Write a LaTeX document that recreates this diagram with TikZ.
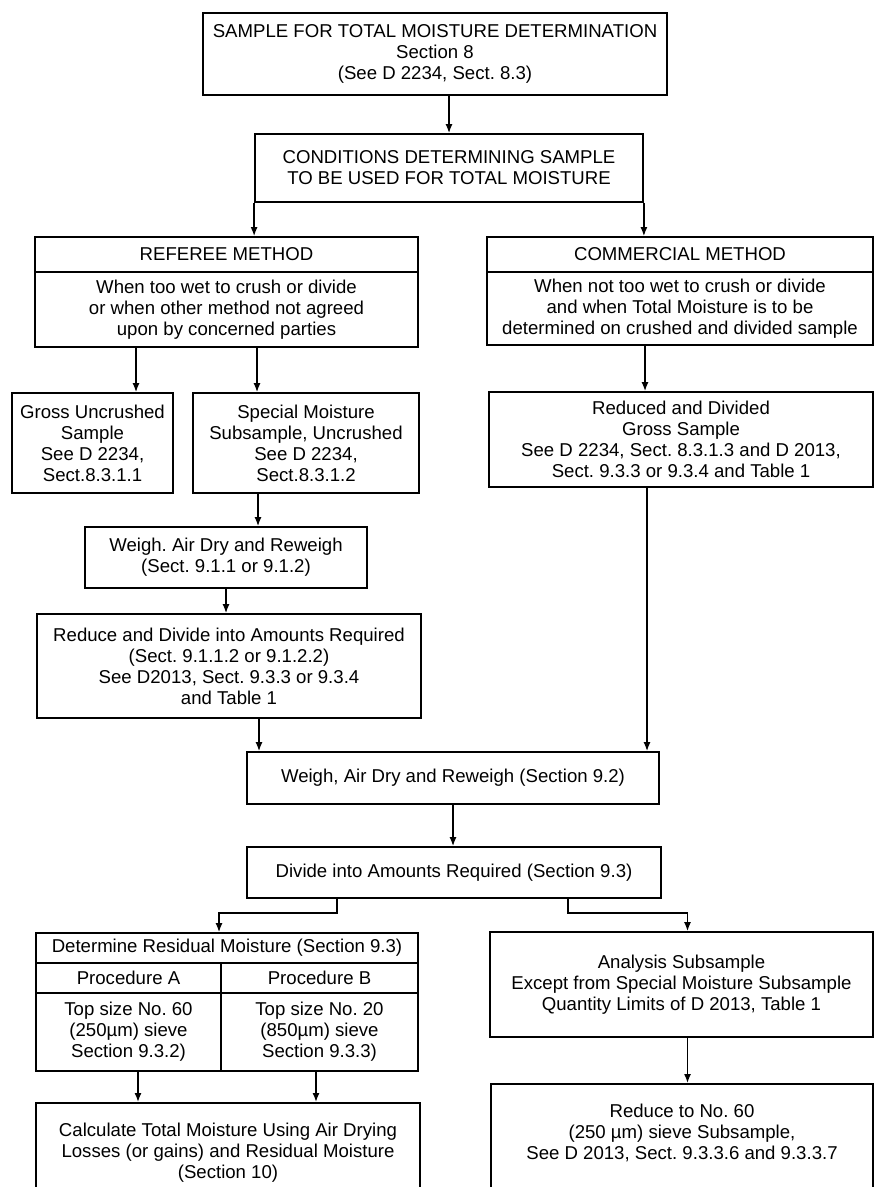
\documentclass[tikz,border=0pt]{standalone}
\usepackage{fontspec}
\setmainfont{Liberation Sans}
\usetikzlibrary{positioning,calc,arrows.meta}
\frenchspacing

\begin{document}
\begin{tikzpicture}[x=0.5pt,y=-0.5pt,
                     box node/.style={rectangle,draw,line width=0.9pt,inner sep=1pt,align=center,
                                      font=\fontsize{9.3}{10.5}\selectfont},
                     flow/.style={line width=0.7pt,-{Latex[length=4.5pt,width=3.5pt]}}
                    ]
   \useasboundingbox (0,0) rectangle (875,1187);
   \clip (0,0) rectangle (875,1187);
   % top of the chart
   \node[box node,minimum width=232pt,minimum height=41pt] (sample) at (435,54)
     {SAMPLE FOR TOTAL MOISTURE DETERMINATION\\Section 8\\(See D 2234, Sect. 8.3)};
   \node[box node,minimum width=194pt,minimum height=34pt] (cond) at (449,168)
     {CONDITIONS DETERMINING SAMPLE\\TO BE USED FOR TOTAL MOISTURE};
   % the two methods
   \node[box node,minimum width=191.5pt,minimum height=17.5pt] (refhead) at (226.5,254.5) {REFEREE METHOD};
   \node[box node,minimum width=191.5pt,minimum height=37.5pt] (refbody) at (226.5,309.5)
     {When too wet to crush or divide\\or when other method not agreed\\upon by concerned parties};
   \node[box node,minimum width=193pt,minimum height=17.5pt] (commhead) at (680,254.5) {COMMERCIAL METHOD};
   \node[box node,minimum width=193pt,minimum height=36.5pt] (commbody) at (680,308.5)
     {When not too wet to crush or divide\\and when Total Moisture is to be\\determined on crushed and divided sample};
   % samples
   \node[box node,minimum width=80.5pt,minimum height=50pt] (gross) at (92.5,443)
     {Gross Uncrushed\\Sample\\See D 2234,\\Sect.8.3.1.1};
   \node[box node,minimum width=113pt,minimum height=50pt] (special) at (306,443)
     {Special Moisture\\Subsample, Uncrushed\\See D 2234,\\Sect.8.3.1.2};
   \node[box node,minimum width=192pt,minimum height=47.5pt] (reduced) at (681,439.5)
     {Reduced and Divided\\Gross Sample\\See D 2234, Sect. 8.3.1.3 and D 2013,\\Sect. 9.3.3 or 9.3.4 and Table 1};
   \node[box node,minimum width=141pt,minimum height=30.5pt] (weighA) at (226,557.5)
     {Weigh. Air Dry and Reweigh\\(Sect. 9.1.1 or 9.1.2)};
   \node[box node,minimum width=192pt,minimum height=52pt] (reduce) at (229,666)
     {Reduce and Divide into Amounts Required\\(Sect. 9.1.1.2 or 9.1.2.2)\\See D2013, Sect. 9.3.3 or 9.3.4\\and Table 1};
   \node[box node,minimum width=206pt,minimum height=26pt] (weighB) at (453,778)
     {Weigh, Air Dry and Reweigh (Section 9.2)};
   \node[box node,minimum width=207pt,minimum height=25.5pt] (divide) at (454,872.5)
     {Divide into Amounts Required (Section 9.3)};
   % residual moisture table
   \node[box node,minimum width=191pt,minimum height=15pt] (reshead) at (227,948)
     {Determine Residual Moisture (Section 9.3)};
   \node[box node,minimum width=92.5pt,minimum height=15pt] (procA) at (128.5,978) {Procedure A};
   \node[box node,minimum width=98.5pt,minimum height=15pt] (procB) at (319.5,978) {Procedure B};
   \node[box node,minimum width=92.5pt,minimum height=39pt] (contA) at (128.5,1032)
     {Top size No. 60\\(250µm) sieve\\Section 9.3.2)};
   \node[box node,minimum width=98.5pt,minimum height=39pt] (contB) at (319.5,1032)
     {Top size No. 20\\(850µm) sieve\\Section 9.3.3)};
   \node[box node,minimum width=191.5pt,minimum height=52.5pt] (analysis) at (681.5,984.5)
     {Analysis Subsample\\Except from Special Moisture Subsample\\Quantity Limits of D 2013, Table 1};
   % bottom boxes, cut off by the page
   \node[box node,minimum width=192pt,minimum height=50pt,anchor=north] (calc) at (228,1102)
     {Calculate Total Moisture Using Air Drying\\Losses (or gains) and Residual Moisture\\(Section 10)};
   \node[box node,minimum width=191pt,minimum height=65pt,anchor=north,text depth=17pt] (red60) at (682,1083)
     {Reduce to No. 60\\(250 µm) sieve Subsample,\\See D 2013, Sect. 9.3.3.6 and 9.3.3.7};

   \draw[flow] (cond.north |- sample.south) -- (cond.north);
   \draw[flow] (cond.south west) -- (cond.south west |- refhead.north);
   \draw[flow] (cond.south east) -- (cond.south east |- commhead.north);
   \draw[flow] ([xshift=21.75pt]gross.north |- refbody.south) -- ([xshift=21.75pt]gross.north);
   \draw[flow] ([xshift=-24.5pt]special.north |- refbody.south) -- ([xshift=-24.5pt]special.north);
   \draw[flow] ([xshift=-24pt]special.south) -- ([xshift=-24pt]special.south |- weighA.north);
   \draw[flow] (weighA.south) -- (weighA.south |- reduce.north);
   \draw[flow] ([xshift=-17.5pt]commbody.south) -- ([xshift=-17.5pt]commbody.south |- reduced.north);
   \draw[flow] ([xshift=15pt]reduce.south) -- ([xshift=15pt]reduce.south |- weighB.north);
   \draw[flow] ([xshift=-17pt]reduced.south) -- ([xshift=-17pt]reduced.south |- weighB.north);
   \draw[flow] (weighB.south) -- (weighB.south |- divide.north);
   \draw[flow] ([xshift=-58.5pt]divide.south) -- ++(0,14) -| ([xshift=-4pt]reshead.north);
   \draw[flow] ([xshift=57pt]divide.south) -- ++(0,14) -| ([xshift=3pt]analysis.north);
   \draw[flow] ([xshift=4.75pt]contA.south) -- ([xshift=4.75pt]contA.south |- calc.north);
   \draw[flow] ([xshift=-1.75pt]contB.south) -- ([xshift=-1.75pt]contB.south |- calc.north);
   \draw[flow] ([xshift=3pt]analysis.south) -- ([xshift=3pt]analysis.south |- red60.north);
\end{tikzpicture}
\end{document}
